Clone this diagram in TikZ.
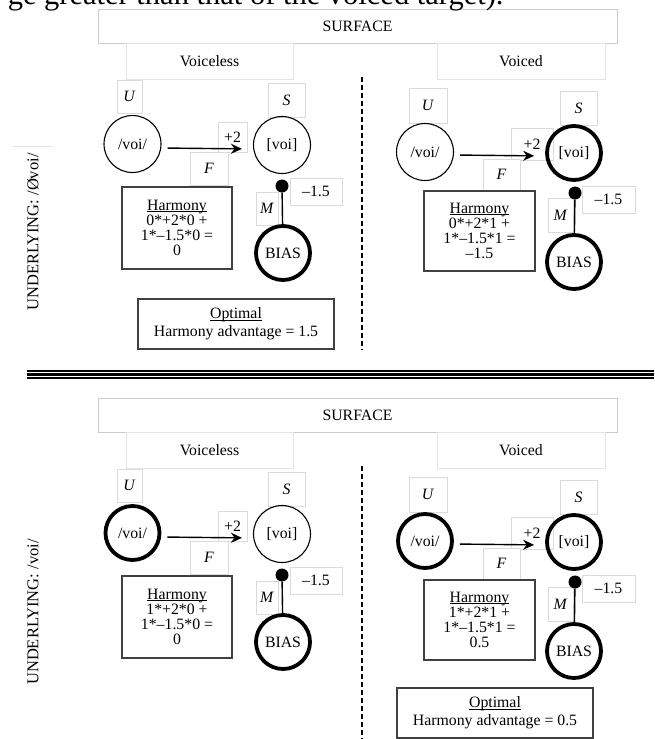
\documentclass[tikz,border=0pt]{standalone}
\usepackage{fontspec}
\setmainfont{Liberation Serif}
\usetikzlibrary{arrows.meta}

\newcommand{\ulword}[1]{\setbox0=\hbox{#1}\rlap{\rule[-1.7pt]{\wd0}{0.8pt}}\box0}

\begin{document}
\begin{tikzpicture}[x=1pt, y=-1pt, >={Stealth[length=11pt,width=10pt]}, font=\fontsize{15.8}{17}\selectfont]
		\tikzset{
		    tnode/.style= {circle, draw=black, line width=1.1pt, minimum size=57pt, inner sep=0pt},
		    tactive/.style= {circle, draw=black, line width=3.8pt, minimum size=54pt, inner sep=0pt},
		    lbox/.style= {rectangle, draw=black!14, fill=white, line width=0.7pt, inner sep=0pt},
		    hdr/.style= {rectangle, draw=black!20, line width=0.8pt, inner sep=0pt},
		    hbox/.style= {rectangle, draw=black!75, line width=1.2pt, align=center, inner sep=0pt, font=\fontsize{15.8}{15.2}\selectfont},
		    obox/.style= {rectangle, draw=black!75, line width=1.2pt, align=center, inner sep=0pt, font=\fontsize{15.8}{18}\selectfont},
		    wdot/.style= {circle, fill=black, minimum size=13pt, inner sep=0pt},
		    fwd/.style= {->, line width=1.4pt, shorten <=6pt, shorten >=11pt},
		    wline/.style= {line width=1.4pt},
		    divider/.style= {line width=1.2pt, dash pattern=on 5pt off 3pt},
		}
		\useasboundingbox (0,0) rectangle (654,739);
		
		% top panel: underlying /Øvoi/
		\node[hdr, minimum width=519pt, minimum height=34pt] (surf0) at (357.5,26) {SURFACE};
		\node[anchor=base east, font=\fontsize{30.5}{31}\selectfont] (cap) at (507,4.5) {ge greater than that of the voiced target).};
		\node[hdr, draw=black!10, minimum width=167pt, minimum height=36pt] (hvl0) at (209.5,61) {Voiceless};
		\node[hdr, draw=black!10, minimum width=168pt, minimum height=36pt] (hvd0) at (521,61) {Voiced};
		\draw[black!12, line width=0.7pt] (13,146) -- (52,146);
		\node[rotate=90, font=\fontsize{16.5}{17}\selectfont] (und0) at (33,232) {UNDERLYING: /Øvoi/};
		\coordinate (dtop0) at (362,77);
		\coordinate (dbot0) at (362,350);
		\draw[divider] (dtop0) -- (dbot0);
		
		\node[lbox, minimum width=25pt, minimum height=33pt] (lu00) at (129.5,96.5) {\textit{U}};
		\node[lbox, minimum width=37pt, minimum height=34pt] (ls00) at (286.5,100) {\textit{S}};
		\node[lbox, minimum width=29pt, minimum height=30pt] (lp00) at (232.5,137) {+2};
		\node[lbox, minimum width=38pt, minimum height=33pt] (lf00) at (209,168.5) {\textit{F}};
		\node[lbox, minimum width=52pt, minimum height=27pt] (lw00) at (316,191.5) {–1.5};
		\node[lbox, minimum width=22pt, minimum height=33pt] (lm00) at (267,208.5) {\textit{M}};
		\node[tnode] (v00) at (132.5,144) {/voi/};
		\node[tnode] (w00) at (282,145) {[voi]};
		\node[wdot] (dot00) at (282,186) {};
		\node[tactive] (bias00) at (283,253) {BIAS};
		\node[hbox, minimum width=110pt, minimum height=82pt] (har00) at (177,228) {\ulword{Harmony}\\0*+2*0 +\\1*–1.5*0 =\\0};
		\node[obox, minimum width=196pt, minimum height=50pt] (opt00) at (236,324) {\ulword{Optimal}\\Harmony advantage = 1.5};
		
		\node[lbox, minimum width=38pt, minimum height=35pt] (lu01) at (428,105.5) {\textit{U}};
		\node[lbox, minimum width=37pt, minimum height=34pt] (ls01) at (578.5,108) {\textit{S}};
		\node[lbox, minimum width=42pt, minimum height=32pt] (lp01) at (532,144) {+2};
		\node[lbox, minimum width=37pt, minimum height=31pt] (lf01) at (501.5,174.5) {\textit{F}};
		\node[lbox, minimum width=53pt, minimum height=27pt] (lw01) at (608.5,199.5) {–1.5};
		\node[lbox, minimum width=25pt, minimum height=34pt] (lm01) at (560.5,215) {\textit{M}};
		\node[tnode] (v01) at (425,152) {/voi/};
		\node[tactive] (w01) at (574,153) {[voi]};
		\node[wdot] (dot01) at (575,193) {};
		\node[tactive] (bias01) at (574,262) {BIAS};
		\node[hbox, minimum width=111pt, minimum height=80pt] (har01) at (479.5,231) {\ulword{Harmony}\\0*+2*1 +\\1*–1.5*1 =\\–1.5};
		
		\draw
		([yshift=-4pt]v00.east) edge[fwd] ([yshift=-4pt]w00.west)
		([yshift=-3pt]v01.east) edge[fwd] ([yshift=-3pt]w01.west);
		\draw[wline] (dot00) -- (bias00);
		\draw[wline] (dot01) -- (bias01);
		
		% separator
		\draw[line width=1.1pt] (27,371) -- (654,371);
		\draw[line width=2.6pt] (27,374.5) -- (654,374.5);
		\draw[line width=1.1pt] (27,378) -- (654,378);
		
		% bottom panel: underlying /voi/
		\begin{scope}[yshift=-389pt]
		\node[hdr, minimum width=519pt, minimum height=34pt] (surf1) at (357.5,26) {SURFACE};
		\node[hdr, draw=black!10, minimum width=167pt, minimum height=36pt] (hvl1) at (209.5,61) {Voiceless};
		\node[hdr, draw=black!10, minimum width=168pt, minimum height=36pt] (hvd1) at (521,61) {Voiced};
		\node[rotate=90, font=\fontsize{16.5}{17}\selectfont] (und1) at (33,223) {UNDERLYING: /voi/};
		\coordinate (dtop1) at (362,77);
		\coordinate (dbot1) at (362,350);
		\draw[divider] (dtop1) -- (dbot1);
		
		\node[lbox, minimum width=25pt, minimum height=33pt] (lu10) at (129.5,96.5) {\textit{U}};
		\node[lbox, minimum width=37pt, minimum height=34pt] (ls10) at (286.5,100) {\textit{S}};
		\node[lbox, minimum width=29pt, minimum height=30pt] (lp10) at (232.5,137) {+2};
		\node[lbox, minimum width=38pt, minimum height=33pt] (lf10) at (209,168.5) {\textit{F}};
		\node[lbox, minimum width=52pt, minimum height=27pt] (lw10) at (316,191.5) {–1.5};
		\node[lbox, minimum width=22pt, minimum height=33pt] (lm10) at (267,208.5) {\textit{M}};
		\node[tactive] (v10) at (132.5,144) {/voi/};
		\node[tnode] (w10) at (282,145) {[voi]};
		\node[wdot] (dot10) at (282,186) {};
		\node[tactive] (bias10) at (283,253) {BIAS};
		\node[hbox, minimum width=110pt, minimum height=82pt] (har10) at (177,228) {\ulword{Harmony}\\1*+2*0 +\\1*–1.5*0 =\\0};
		
		\node[lbox, minimum width=38pt, minimum height=35pt] (lu11) at (428,105.5) {\textit{U}};
		\node[lbox, minimum width=37pt, minimum height=34pt] (ls11) at (578.5,108) {\textit{S}};
		\node[lbox, minimum width=42pt, minimum height=32pt] (lp11) at (532,144) {+2};
		\node[lbox, minimum width=37pt, minimum height=31pt] (lf11) at (501.5,174.5) {\textit{F}};
		\node[lbox, minimum width=53pt, minimum height=27pt] (lw11) at (608.5,199.5) {–1.5};
		\node[lbox, minimum width=25pt, minimum height=34pt] (lm11) at (560.5,215) {\textit{M}};
		\node[tactive] (v11) at (425,152) {/voi/};
		\node[tactive] (w11) at (574,153) {[voi]};
		\node[wdot] (dot11) at (575,193) {};
		\node[tactive] (bias11) at (574,262) {BIAS};
		\node[hbox, minimum width=111pt, minimum height=80pt] (har11) at (479.5,231) {\ulword{Harmony}\\1*+2*1 +\\1*–1.5*1 =\\0.5};
		\node[obox, minimum width=196pt, minimum height=50pt] (opt11) at (495,324) {\ulword{Optimal}\\Harmony advantage = 0.5};
		
		\draw
		([yshift=-4pt]v10.east) edge[fwd] ([yshift=-4pt]w10.west)
		([yshift=-3pt]v11.east) edge[fwd] ([yshift=-3pt]w11.west);
		\draw[wline] (dot10) -- (bias10);
		\draw[wline] (dot11) -- (bias11);
		\end{scope}
	\end{tikzpicture}
\end{document}
